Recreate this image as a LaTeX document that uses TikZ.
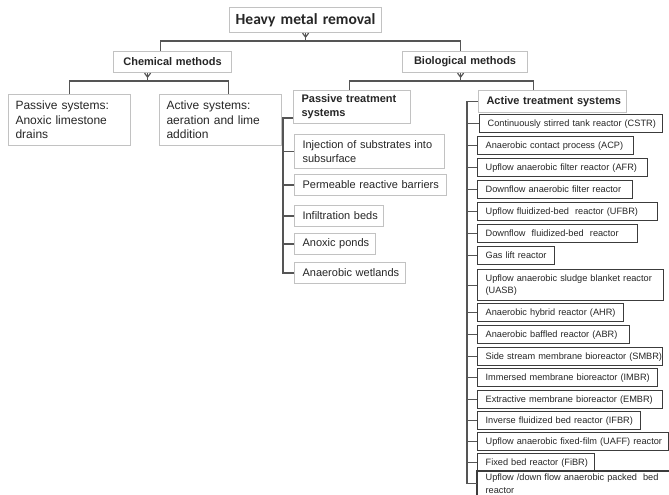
\documentclass[tikz,border=0pt]{standalone}
\usepackage{fontspec}
\setmainfont{Liberation Sans}
\newfontfamily\titlefont{Carlito}
\definecolor{lightb}{HTML}{C2C2C2}
\definecolor{darkb}{HTML}{3C3C3C}
\definecolor{conncol}{HTML}{555555}
\definecolor{txt}{HTML}{262626}
\hyphenpenalty=10000
\exhyphenpenalty=10000
\begin{document}
\begin{tikzpicture}[x=1pt,y=-1pt,
  conn/.style={draw=conncol, line width=1.2pt},
  basebox/.style={anchor=north west, fill=white, inner ysep=0pt, align=left, text=txt,
    execute at begin node={\hyphenpenalty=10000\exhyphenpenalty=10000\relax}},
  lbox/.style={basebox, draw=lightb, line width=1.1pt},
  dbox/.style={basebox, draw=darkb, line width=1.3pt, inner xsep=8pt, font=\fontsize{9.2}{12.5}\selectfont},
  cbox/.style={lbox, align=center, inner xsep=2pt, font=\fontsize{11}{13}\selectfont\bfseries},
  pbox/.style={lbox, inner xsep=8pt, font=\fontsize{11}{14}\selectfont},
  sbox/.style={lbox, inner xsep=7pt, font=\fontsize{12}{14.5}\selectfont},
  hbox/.style={lbox, inner xsep=8pt, font=\fontsize{11}{14}\selectfont\bfseries},
]
\useasboundingbox (0,0) rectangle (669,495);

% top levels
\node[cbox, font=\titlefont\fontsize{15.5}{18}\selectfont\bfseries, text width=148pt, minimum height=25pt] (title) at (229,7) {\mbox{Heavy metal removal}};
\node[cbox, text width=114pt, minimum height=21pt] (chem) at (113,51) {\mbox{Chemical methods}};
\node[cbox, text width=121pt, minimum height=21pt] (bio) at (402,51) {\mbox{Biological methods}};

% chemical children
\node[sbox, text width=108pt, minimum height=51pt] (psys) at (8,94) {\mbox{Passive systems:}\\\mbox{Anoxic limestone}\\drains};
\node[sbox, text width=108pt, minimum height=51pt] (asys) at (159,94) {\mbox{Active systems:}\\\mbox{aeration and lime}\\addition};

% biological children
\node[hbox, text width=101pt, minimum height=33pt] (ptreat) at (293,90) {\mbox{Passive treatment}\\systems};
\node[hbox, text width=132pt, minimum height=22pt] (atreat) at (478,90) {\mbox{Active treatment systems}};

% passive treatment systems
\node[pbox, text width=134pt, minimum height=34pt] (inj) at (294,134) {\mbox{Injection of substrates into}\\subsurface};
\node[pbox, text width=136pt, minimum height=21pt] (perm) at (294,174) {\mbox{Permeable reactive barriers}};
\node[pbox, text width=73pt, minimum height=21pt] (inf) at (294,205) {\mbox{Infiltration beds}};
\node[pbox, text width=65pt, minimum height=21pt] (anox) at (294,233) {\mbox{Anoxic ponds}};
\node[pbox, text width=95pt, minimum height=21pt] (wet) at (294,262) {\mbox{Anaerobic wetlands}};

% active treatment systems
\node[dbox, text width=167pt, minimum height=18pt] (cstr) at (479,114) {\mbox{Continuously stirred tank reactor (CSTR)}};
\node[dbox, text width=140pt, minimum height=18pt] (acp) at (477,136) {\mbox{Anaerobic contact process (ACP)}};
\node[dbox, text width=154pt, minimum height=18pt] (afr) at (477,158) {\mbox{Upflow anaerobic filter reactor (AFR)}};
\node[dbox, text width=139pt, minimum height=18pt] (dafr) at (477,180) {\mbox{Downflow anaerobic filter reactor}};
\node[dbox, text width=164pt, minimum height=18pt] (ufbr) at (477,202) {\mbox{Upflow fluidized-bed~~reactor (UFBR)}};
\node[dbox, text width=144pt, minimum height=18pt] (dfbr) at (477,224) {\mbox{Downflow~~fluidized-bed~~reactor}};
\node[dbox, text width=61pt, minimum height=18pt] (gas) at (477,246) {\mbox{Gas lift reactor}};
\node[dbox, text width=170pt, minimum height=31pt] (uasb) at (477,269) {\mbox{Upflow anaerobic sludge blanket reactor}\\(UASB)};
\node[dbox, text width=130pt, minimum height=18pt] (ahr) at (477,303) {\mbox{Anaerobic hybrid reactor (AHR)}};
\node[dbox, text width=136pt, minimum height=18pt] (abr) at (477,325) {\mbox{Anaerobic baffled reactor (ABR)}};
\node[dbox, text width=169pt, minimum height=18pt] (smbr) at (477,347) {\mbox{Side stream membrane bioreactor (SMBR)}};
\node[dbox, text width=164pt, minimum height=18pt] (imbr) at (477,368) {\mbox{Immersed membrane bioreactor (IMBR)}};
\node[dbox, text width=169pt, minimum height=18pt] (embr) at (477,390) {\mbox{Extractive membrane bioreactor (EMBR)}};
\node[dbox, text width=147pt, minimum height=18pt] (ifbr) at (477,411) {\mbox{Inverse fluidized bed reactor (IFBR)}};
\node[dbox, text width=175pt, minimum height=18pt] (uaff) at (477,432) {\mbox{Upflow anaerobic fixed-film (UAFF) reactor}};
\node[dbox, text width=101pt, minimum height=18pt] (fibr) at (477,453) {\mbox{Fixed bed reactor (FiBR)}};
\node[dbox, draw=none, fill=none, text width=176pt, minimum height=24pt] (last) at (477,471) {\mbox{Upflow /down flow anaerobic packed~~bed}\\reactor};
\draw[draw=darkb, line width=1.3pt] (last.south west) -- (last.north west) -- (last.north east);

% connectors: top level
\draw[conn] ([xshift=-12pt]chem.north) -- ++(0,-10) -| (title.south);
\draw[conn] ([xshift=-4.5pt]bio.north) -- ++(0,-10) -| (title.south);
\draw[conn] ([xshift=-3pt]title.south) -- ++(3,4) -- ++(3,-4);

% chemical
\draw[conn] (psys.north) -- ++(0,-13) -| ([xshift=-25pt]chem.south);
\draw[conn] ([xshift=8pt]asys.north) -- ++(0,-13) -| ([xshift=-25pt]chem.south);
\draw[conn] ([xshift=-28pt]chem.south) -- ++(3,4) -- ++(3,-4);

% biological
\draw[conn] ([xshift=-2.5pt]ptreat.north) -- ++(0,-9) -| ([xshift=-4.5pt]bio.south);
\draw[conn] ([xshift=-19pt]atreat.north) -- ++(0,-9) -| ([xshift=-4.5pt]bio.south);
\draw[conn] ([xshift=-7.5pt]bio.south) -- ++(3,4) -- ++(3,-4);

% passive bus
\draw[conn] ([yshift=-11pt]ptreat.west) -- ++(-10,0) coordinate (pb) |- (wet.west);
\foreach \n in {inj,perm,inf,anox} \draw[conn] (pb |- \n.west) -- (\n.west);

% active bus
\draw[conn] (atreat.west) -- ++(-11,0) coordinate (ab) |- (last.west);
\foreach \n in {cstr,acp,afr,dafr,ufbr,dfbr,gas,uasb,ahr,abr,smbr,imbr,embr,ifbr,uaff,fibr} \draw[conn] (ab |- \n.west) -- (\n.west);
\end{tikzpicture}
\end{document}
